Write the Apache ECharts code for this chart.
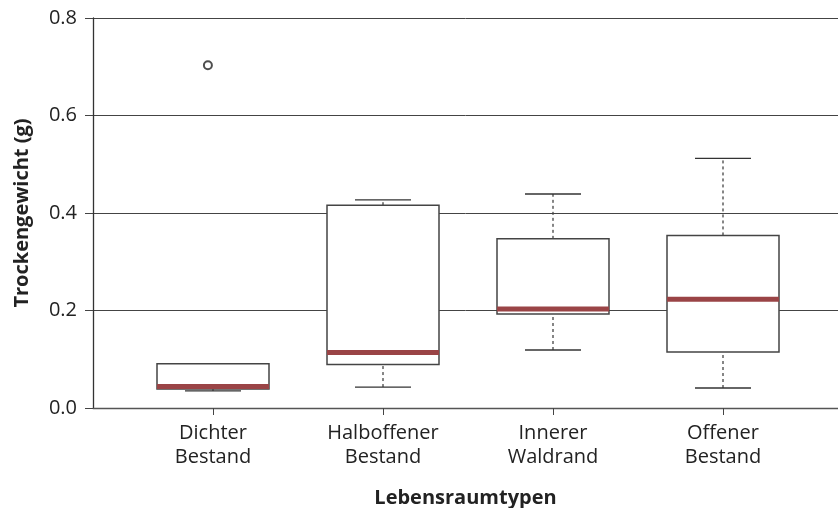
<!DOCTYPE html>
<html>
<head>
<meta charset="utf-8">
<script src="https://cdn.jsdelivr.net/npm/echarts@6/dist/echarts.min.js"></script>
<style>
  html, body { margin: 0; padding: 0; background: #fff; }
  #chart { width: 838px; height: 508px; }
</style>
</head>
<body>
<div id="chart"></div>
<script>
// 数据
var categories = ['Dichter\nBestand', 'Halboffener\nBestand', 'Innerer\nWaldrand', 'Offener\nBestand'];
var positions = [1, 2, 3, 4];
var mins = [0.035, 0.043, 0.119, 0.041];
var q1s = [0.039, 0.089, 0.193, 0.115];
var medians = [0.044, 0.114, 0.203, 0.223];
var q3s = [0.091, 0.416, 0.347, 0.354];
var maxs = [0.091, 0.427, 0.439, 0.512];
var outliers = [[0.97, 0.703]];

(function() {
    var myChart = echarts.init(document.getElementById('chart'));

    var boxData = positions.map(function(p, i) {
        return [p, mins[i], q1s[i], medians[i], q3s[i], maxs[i]];
    });

    // 箱线图：须线、箱体、中位线
    function renderBox(params, api) {
        var x = api.value(0);
        var pMin = api.coord([x, api.value(1)]);
        var pQ1 = api.coord([x, api.value(2)]);
        var pMed = api.coord([x, api.value(3)]);
        var pQ3 = api.coord([x, api.value(4)]);
        var pMax = api.coord([x, api.value(5)]);
        var cx = pMed[0];
        var halfBox = 56;
        var halfCap = 28;
        var whisker = { stroke: '#444', lineWidth: 1.3, lineDash: [3, 3] };
        var solid = { stroke: '#333', lineWidth: 1.3 };
        return {
            type: 'group',
            children: [
                { type: 'line', shape: { x1: cx, y1: pQ3[1], x2: cx, y2: pMax[1] }, style: whisker },
                { type: 'line', shape: { x1: cx, y1: pMin[1], x2: cx, y2: pQ1[1] }, style: whisker },
                { type: 'line', shape: { x1: cx - halfCap, y1: pMax[1], x2: cx + halfCap, y2: pMax[1] }, style: solid },
                { type: 'line', shape: { x1: cx - halfCap, y1: pMin[1], x2: cx + halfCap, y2: pMin[1] }, style: solid },
                {
                    type: 'rect',
                    shape: { x: cx - halfBox, y: pQ3[1], width: halfBox * 2, height: pQ1[1] - pQ3[1] },
                    style: { fill: '#fff', stroke: '#444', lineWidth: 1.5 }
                },
                {
                    type: 'line',
                    shape: { x1: cx - halfBox, y1: pMed[1], x2: cx + halfBox, y2: pMed[1] },
                    style: { stroke: '#9a4446', lineWidth: 5 }
                }
            ]
        };
    }

    var option = {
        animation: false,
        textStyle: { fontFamily: 'Open Sans' },
        grid: { left: 93, right: 0, top: 18, bottom: 100, outerBoundsMode: 'none', containLabel: false },
        xAxis: {
            type: 'value',
            min: 1 - 120 / 170,
            max: 1 - 120 / 170 + 745 / 170,
            name: 'Lebensraumtypen',
            nameLocation: 'middle',
            nameGap: 80,
            nameTextStyle: { fontSize: 20, fontWeight: 'bold', color: '#222' },
            splitLine: { show: false },
            axisLine: { lineStyle: { color: '#555', width: 1.3 } },
            axisTick: { customValues: positions, length: 7, lineStyle: { color: '#444' } },
            axisLabel: {
                customValues: positions,
                fontSize: 20,
                color: '#222',
                margin: 13,
                lineHeight: 24,
                formatter: function(v) { return categories[Math.round(v) - 1]; }
            }
        },
        yAxis: {
            type: 'value',
            min: 0,
            max: 0.8,
            interval: 0.2,
            name: 'Trockengewicht (g)',
            nameLocation: 'middle',
            nameGap: 61,
            nameTextStyle: { fontSize: 20, fontWeight: 'bold', color: '#222' },
            axisLine: { show: true, lineStyle: { color: '#333', width: 1.3 } },
            axisTick: { show: true, length: 8, lineStyle: { color: '#444' } },
            axisLabel: {
                fontSize: 20,
                color: '#222',
                margin: 16,
                formatter: function(v) { return v.toFixed(1); }
            },
            splitLine: { show: true, lineStyle: { color: '#444', width: 1 } }
        },
        series: [{
            type: 'custom',
            renderItem: renderBox,
            data: boxData,
            encode: { x: 0, y: [1, 2, 3, 4, 5] },
            z: 3
        }, {
            type: 'scatter',
            data: outliers,
            symbol: 'emptyCircle',
            symbolSize: 8,
            itemStyle: { color: '#222', borderColor: '#222', borderWidth: 1.3 },
            z: 4
        }]
    };

    myChart.setOption(option);
})();
</script>
</body>
</html>
